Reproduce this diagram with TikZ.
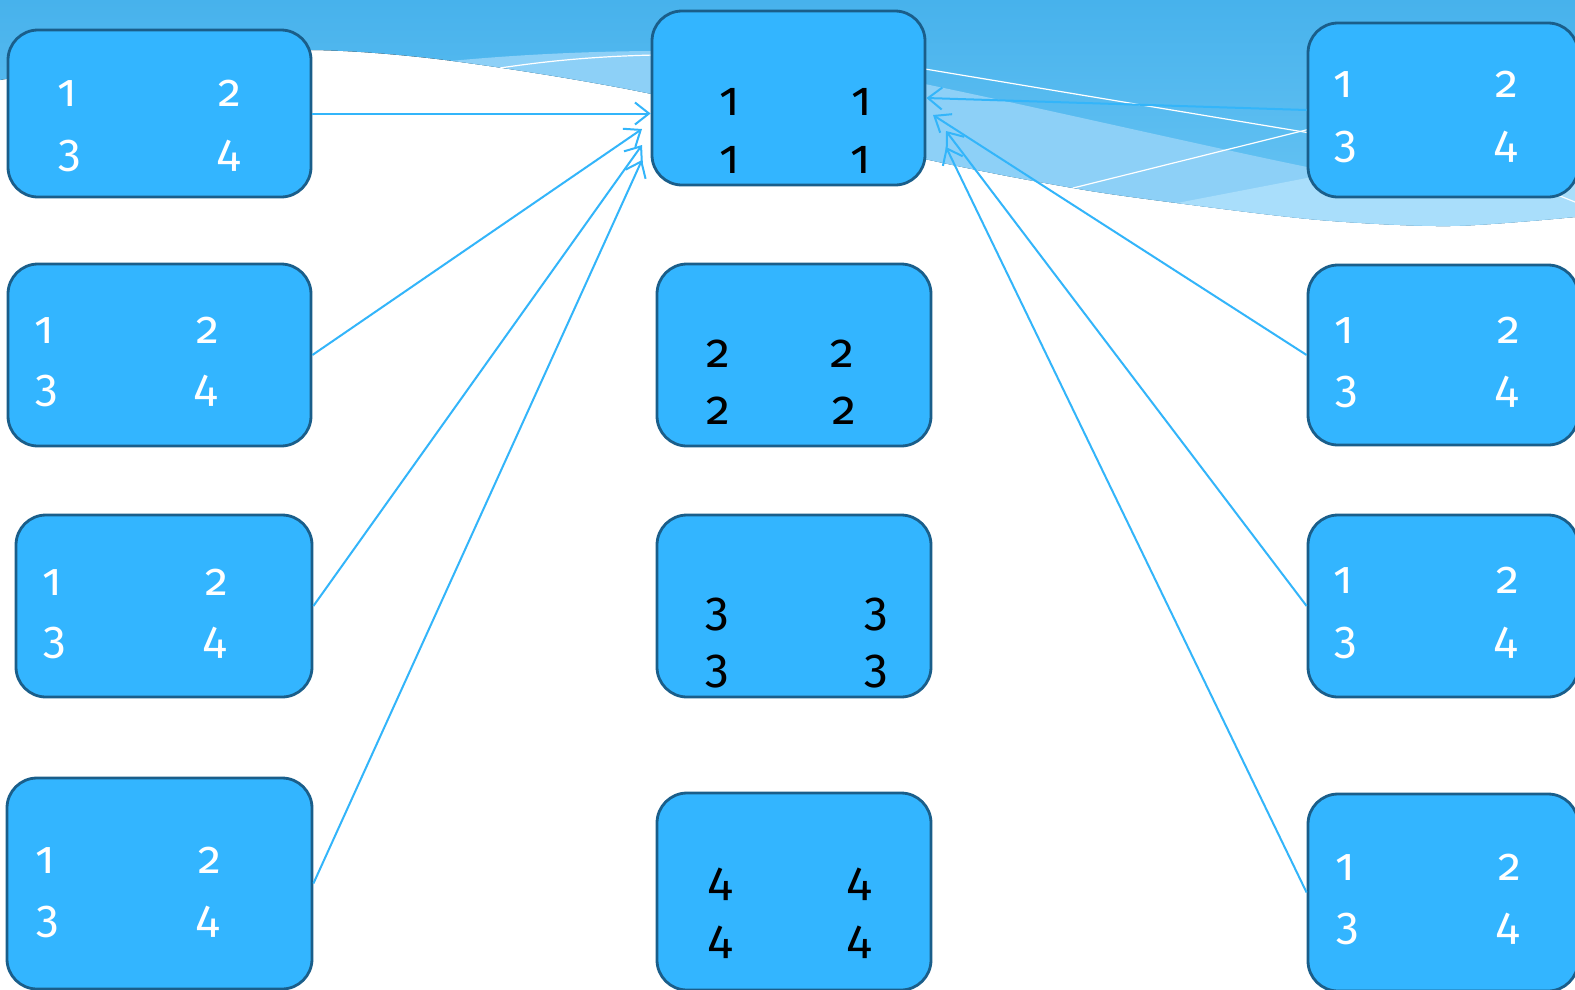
\documentclass[tikz,border=0pt]{standalone}
\usepackage{fontspec}
\newfontfamily\digfont{Fira Sans}[Numbers=OldStyle]
\usetikzlibrary{arrows.meta}
\definecolor{boxfill}{HTML}{33B5FF}
\definecolor{boxline}{HTML}{1A5E8A}
\definecolor{arrowc}{HTML}{33B5FA}
\definecolor{bandtop}{HTML}{47B2EC}
\definecolor{bandbot}{HTML}{6AC5F4}
\definecolor{lightA}{HTML}{8DD0F7}
\definecolor{lightB}{HTML}{A9DEFB}
\begin{document}
\begin{tikzpicture}[x=1pt,y=-1pt,
  box/.style={draw=boxline, fill=boxfill, line width=2.8pt, rounded corners=30pt, inner sep=0pt},
  wd/.style={anchor=base, text=white, font=\digfont\fontsize{46}{50}\selectfont, inner sep=0pt},
  bd/.style={anchor=base, text=black, font=\digfont\fontsize{48}{52}\selectfont, inner sep=0pt},
  conn/.style={draw=arrowc, line width=2pt, -{Straight Barb[length=14pt,width=22pt]}},
  wline/.style={draw=white, line width=1.2pt}
]
\useasboundingbox (0,0) rectangle (1575,989);
\clip (0,0) rectangle (1575,989);
% background
\fill[white] (0,0) rectangle (1575,989);
\begin{scope}
\clip (0,0) -- plot[smooth] coordinates {(0,80) (150,57) (312,50) (453,61) (652,94) (925,159) (1073,188) (1177,203) (1320,220) (1450,226) (1575,217)} -- (1575,0) -- cycle;
\fill[top color=bandtop, bottom color=bandbot] (0,0) rectangle (1575,230);
\fill[lightA] (440,62) .. controls (520,54) and (600,51) .. (660,51) -- (660,200) -- (440,200) -- cycle;
\fill[lightA] (920,83) .. controls (1050,110) and (1200,145) .. (1307,167) -- (1580,222) -- (1580,300) -- (920,300) -- cycle;
\fill[lightB] (1177,203) -- (1307,178) -- (1580,128) -- (1580,300) -- (1177,300) -- cycle;
\end{scope}
\draw[wline] (500,68) .. controls (560,59) and (610,56) .. (655,55);
\draw[wline] (925,69) -- (1310,133);
\draw[wline] (1073,188) -- (1310,129);
\draw[wline] (1540,188) -- (1580,204);
% boxes
\node[box, minimum width=303pt, minimum height=167pt] (L1) at (159.5,113.5) {};
\node[box, minimum width=303pt, minimum height=182pt] (L2) at (159.5,355) {};
\node[box, minimum width=296pt, minimum height=182pt] (L3) at (164,606) {};
\node[box, minimum width=305pt, minimum height=211pt] (L4) at (159.5,883.5) {};
\node[box, minimum width=273pt, minimum height=174pt] (M1) at (788.5,98) {};
\node[box, minimum width=274pt, minimum height=182pt] (M2) at (794,355) {};
\node[box, minimum width=274pt, minimum height=182pt] (M3) at (794,606) {};
\node[box, minimum width=274pt, minimum height=197pt] (M4) at (794,891.5) {};
\node[box, minimum width=270pt, minimum height=174pt] (R1) at (1443,110) {};
\node[box, minimum width=270pt, minimum height=180pt] (R2) at (1443,355) {};
\node[box, minimum width=270pt, minimum height=182pt] (R3) at (1443,606) {};
\node[box, minimum width=270pt, minimum height=197pt] (R4) at (1443,892.5) {};
% arrow tips
\coordinate (tL2) at (642,129);
\coordinate (tL3) at (642,145);
\coordinate (tL4) at (642,160);
\coordinate (tR2) at (933,115);
\coordinate (tR3) at (946,131);
\coordinate (tR4) at (946,147);
\draw[conn] (L1.east) -- (L1.east -| M1.west);
\draw[conn] (L2.east) -- (tL2);
\draw[conn] (L3.east) -- (tL3);
\draw[conn] (L4.east) -- (tL4);
\draw[conn] (R1.west) -- (M1.east);
\draw[conn] (R2.west) -- (tR2);
\draw[conn] (R3.west) -- (tR3);
\draw[conn] (R4.west) -- (tR4);
% left texts
\node[wd] (L1a) at (67,106) {1};  \node[wd] (L1b) at (230,106) {2};
\node[wd] (L1c) at (70,166) {3}; \node[wd] (L1d) at (229,166) {4};
\node[wd] (L2a) at (44,343) {1}; \node[wd] (L2b) at (208,343) {2};
\node[wd] (L2c) at (47,401) {3}; \node[wd] (L2d) at (206,401) {4};
\node[wd] (L3a) at (52,595) {1}; \node[wd] (L3b) at (217,595) {2};
\node[wd] (L3c) at (55,653) {3}; \node[wd] (L3d) at (215,653) {4};
\node[wd] (L4a) at (45,873) {1}; \node[wd] (L4b) at (210,873) {2};
\node[wd] (L4c) at (48,932) {3}; \node[wd] (L4d) at (208,932) {4};
% right texts
\node[wd] (R1a) at (1343,97) {1};  \node[wd] (R1b) at (1507,97) {2};
\node[wd] (R1c) at (1346,157) {3}; \node[wd] (R1d) at (1506,157) {4};
\node[wd] (R2a) at (1344,343) {1}; \node[wd] (R2b) at (1509,343) {2};
\node[wd] (R2c) at (1347,402) {3}; \node[wd] (R2d) at (1507,402) {4};
\node[wd] (R3a) at (1343,593) {1}; \node[wd] (R3b) at (1508,593) {2};
\node[wd] (R3c) at (1346,653) {3}; \node[wd] (R3d) at (1506,653) {4};
\node[wd] (R4a) at (1345,880) {1}; \node[wd] (R4b) at (1510,880) {2};
\node[wd] (R4c) at (1348,939) {3}; \node[wd] (R4d) at (1508,939) {4};
% middle texts
\node[bd] (M1a) at (730,115) {1}; \node[bd] (M1b) at (862,115) {1};
\node[bd] (M1c) at (730,173) {1}; \node[bd] (M1d) at (861,173) {1};
\node[bd] (M2a) at (718,367) {2}; \node[bd] (M2b) at (842,367) {2};
\node[bd] (M2c) at (718,424) {2}; \node[bd] (M2d) at (844,424) {2};
\node[bd] (M3a) at (717,625) {3}; \node[bd] (M3b) at (876,625) {3};
\node[bd] (M3c) at (717,682) {3}; \node[bd] (M3d) at (876,682) {3};
\node[bd] (M4a) at (720,895) {4}; \node[bd] (M4b) at (859,895) {4};
\node[bd] (M4c) at (720,953) {4}; \node[bd] (M4d) at (859,953) {4};
\end{tikzpicture}
\end{document}
